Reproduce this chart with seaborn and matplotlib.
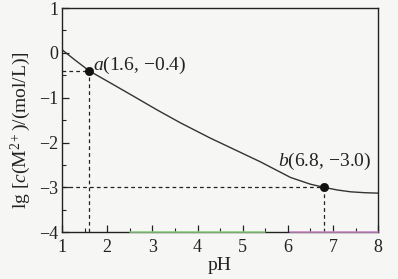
import matplotlib
matplotlib.use("Agg")
import matplotlib.pyplot as plt
import seaborn as sns
import pandas as pd
from matplotlib.ticker import MultipleLocator

# Data
ph_values = [1.0, 1.3, 1.6, 2.0, 2.57, 3.1, 3.62, 4.28, 4.95, 5.39, 6.06, 6.5, 6.8, 7.1, 7.39, 7.7, 8.0]
lg_values = [0.07, -0.17, -0.40, -0.63, -0.96, -1.27, -1.56, -1.90, -2.22, -2.43, -2.78, -2.93, -3.00, -3.06, -3.10, -3.12, -3.13]
point_ph = [1.6, 6.8]
point_lg = [-0.4, -3.0]
point_labels = [r"$a$(1.6, −0.4)", r"$b$(6.8, −3.0)"]
x_ticks = [1, 2, 3, 4, 5, 6, 7, 8]
y_ticks = [-4, -3, -2, -1, 0, 1]

sns.set_theme(style="ticks")
plt.rcParams["font.family"] = ["Liberation Serif", "DejaVu Serif"]
plt.rcParams["mathtext.fontset"] = "custom"
plt.rcParams["mathtext.rm"] = "Liberation Serif"
plt.rcParams["mathtext.it"] = "Liberation Serif:italic"

ink = "#222222"
fig = plt.figure(figsize=(3.98, 2.79), dpi=100)
fig.patch.set_facecolor("#f6f6f4")
ax = fig.add_axes([0.156, 0.168, 0.794, 0.803])
ax.set_facecolor("#f6f6f4")

df = pd.DataFrame({"pH": ph_values, "lg": lg_values})
sns.lineplot(data=df, x="pH", y="lg", ax=ax, color="#333333", lw=1.0,
             sort=False, estimator=None)

# dashed guide lines
for px, py in zip(point_ph, point_lg):
    ax.plot([1, px], [py, py], ls=(0, (3, 2.5)), color=ink, lw=0.9)
    ax.plot([px, px], [-4, py], ls=(0, (3, 2.5)), color=ink, lw=0.9)

pts = pd.DataFrame({"pH": point_ph, "lg": point_lg})
sns.scatterplot(data=pts, x="pH", y="lg", ax=ax, color="#111111", s=36,
                edgecolor="#111111", zorder=5)

ax.text(1.68, -0.27, point_labels[0], fontsize=14, ha="left", va="center", color=ink)
ax.text(5.79, -2.42, point_labels[1], fontsize=14, ha="left", va="center", color=ink)

ax.set_xlim(1, 8)
ax.set_ylim(-4, 1)
ax.set_xticks(x_ticks)
ax.set_yticks(y_ticks)
ax.set_yticklabels([str(v).replace("-", "−") for v in y_ticks])
ax.xaxis.set_minor_locator(MultipleLocator(0.5))
ax.yaxis.set_minor_locator(MultipleLocator(0.5))
ax.tick_params(which="major", direction="in", length=5, width=0.9, labelsize=13,
               colors=ink, top=False, right=False)
ax.tick_params(axis="x", which="major", pad=5)
ax.tick_params(axis="y", which="major", pad=2.5)
ax.tick_params(which="minor", direction="in", length=3, width=0.8,
               top=False, right=False, colors=ink)
for s in ax.spines.values():
    s.set_color(ink)
    s.set_linewidth(1.0)

# tinted stretches of the bottom axis line, as in the scanned reference
ax.plot([2.5, 5.5], [-4, -4], color="#8fd684", lw=1.1, clip_on=False, zorder=6)
ax.plot([6.05, 8.0], [-4, -4], color="#d48ccf", lw=1.1, clip_on=False, zorder=6)

ax.set_xlabel("pH", fontsize=14, color=ink, labelpad=1)
ax.set_ylabel(r"lg [$c$(M$^{2+}$)/(mol/L)]", fontsize=14, color=ink)
ax.yaxis.set_label_coords(-0.092, 0.455)

fig.savefig("out.png", dpi=100, facecolor=fig.get_facecolor())
